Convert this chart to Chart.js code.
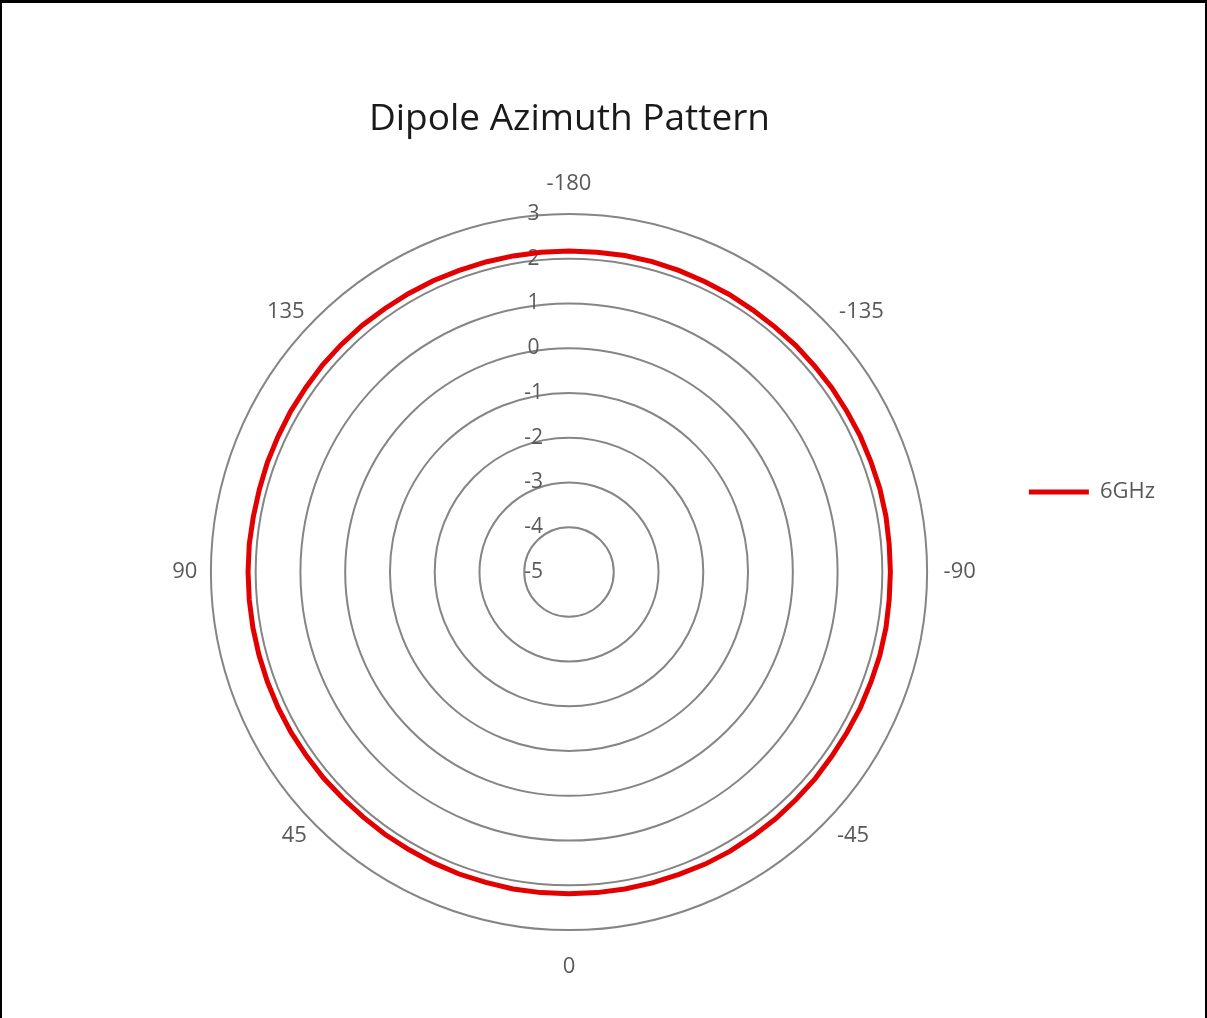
<!DOCTYPE html>
<html>
<head>
<meta charset="utf-8">
<script src="https://cdn.jsdelivr.net/npm/chart.js@4"></script>
<style>
  body { margin: 0; background: #fff; }
  #wrap { position: relative; width: 1207px; height: 1018px; }
  #chart { display: block; }
  #frame { position: absolute; left: 0; top: 0; width: 1203px; height: 1018px;
    border-top: 3px solid #000; border-left: 2px solid #000; border-right: 2px solid #000;
    box-sizing: content-box; pointer-events: none; }
</style>
</head>
<body>
<div id="wrap">
  <canvas id="chart" width="1207" height="1018"></canvas>
  <div id="frame"></div>
</div>
<script>
// azimuth angles every 5 degrees, starting at the top and going clockwise
const angles = [];
for (let a = -180; a < 180; a += 5) angles.push(a);

// gain in dBi
const gain6GHz = [
  2.17, 2.17, 2.18, 2.18, 2.17, 2.16, 2.16, 2.15, 2.15, 2.16, 2.16, 2.17,
  2.17, 2.18, 2.18, 2.19, 2.19, 2.18, 2.18, 2.18, 2.19, 2.19, 2.18, 2.18,
  2.17, 2.17, 2.18, 2.18, 2.19, 2.19, 2.2, 2.2, 2.19, 2.19, 2.19, 2.19,
  2.19, 2.19, 2.19, 2.18, 2.18, 2.17, 2.16, 2.16, 2.15, 2.15, 2.16, 2.16,
  2.17, 2.17, 2.17, 2.17, 2.17, 2.17, 2.17, 2.17, 2.16, 2.16, 2.17, 2.17,
  2.18, 2.18, 2.19, 2.19, 2.19, 2.18, 2.18, 2.18, 2.17, 2.17, 2.17, 2.17
];

const shownAngles = [-180, -135, -90, -45, 0, 45, 90, 135];
const gainMin = -5;
const gainMax = 3;

const nb = n => '\u00a0'.repeat(n);
// where each shown label sits relative to the outer ring (Excel puts the diagonals further round)
const labelPad = { '-180': 6, '0': 13, '90': 3, '-90': 6, '135': -19, '-135': -19, '45': -14, '-45': -14 };
const labelText = { '135': '135' + nb(3), '-135': nb(4) + '-135', '45': '45' + nb(2), '-45': nb(3) + '-45' };

const ctx = document.getElementById('chart').getContext('2d');
const myChart = new Chart(ctx, {
  type: 'radar',
  data: {
    labels: angles,
    datasets: [{
      label: '6GHz',
      data: gain6GHz,
      borderColor: 'rgb(226, 0, 0)',
      backgroundColor: 'rgb(226, 0, 0)',
      borderWidth: 5,
      fill: false,
      pointRadius: 0,
      pointHoverRadius: 0
    }]
  },
  options: {
    responsive: false,
    animation: false,
    layout: { padding: { left: 120, right: 42, top: 0, bottom: 34 } },
    plugins: {
      title: {
        display: true,
        text: 'Dipole Azimuth Pattern',
        fullSize: false,
        color: '#1a1a1a',
        font: { family: 'Open Sans', size: 37, weight: 'normal' },
        padding: { top: 97, bottom: 27 }
      },
      legend: {
        position: 'right',
        labels: {
          usePointStyle: true,
          pointStyle: 'line',
          pointStyleWidth: 60,
          color: '#595959',
          font: { family: 'Open Sans', size: 22 }
        }
      },
      tooltip: { enabled: false }
    },
    scales: {
      r: {
        min: gainMin,
        max: gainMax,
        startAngle: 0,
        angleLines: { display: false },
        grid: { circular: true, color: '#858585', lineWidth: 2 },
        ticks: {
          stepSize: 1,
          color: '#595959',
          showLabelBackdrop: false,
          backdropPadding: 0,
          font: { family: 'Open Sans', size: 21 },
          callback: v => v + nb(13)
        },
        pointLabels: {
          color: '#595959',
          font: { family: 'Open Sans', size: 22 },
          padding: c => {
            const p = labelPad[String(angles[c.index])];
            return p === undefined ? 0 : p;
          },
          callback: (label) => {
            if (!shownAngles.includes(label)) return '';
            return labelText[String(label)] || String(label);
          }
        }
      }
    }
  }
});
</script>
</body>
</html>
